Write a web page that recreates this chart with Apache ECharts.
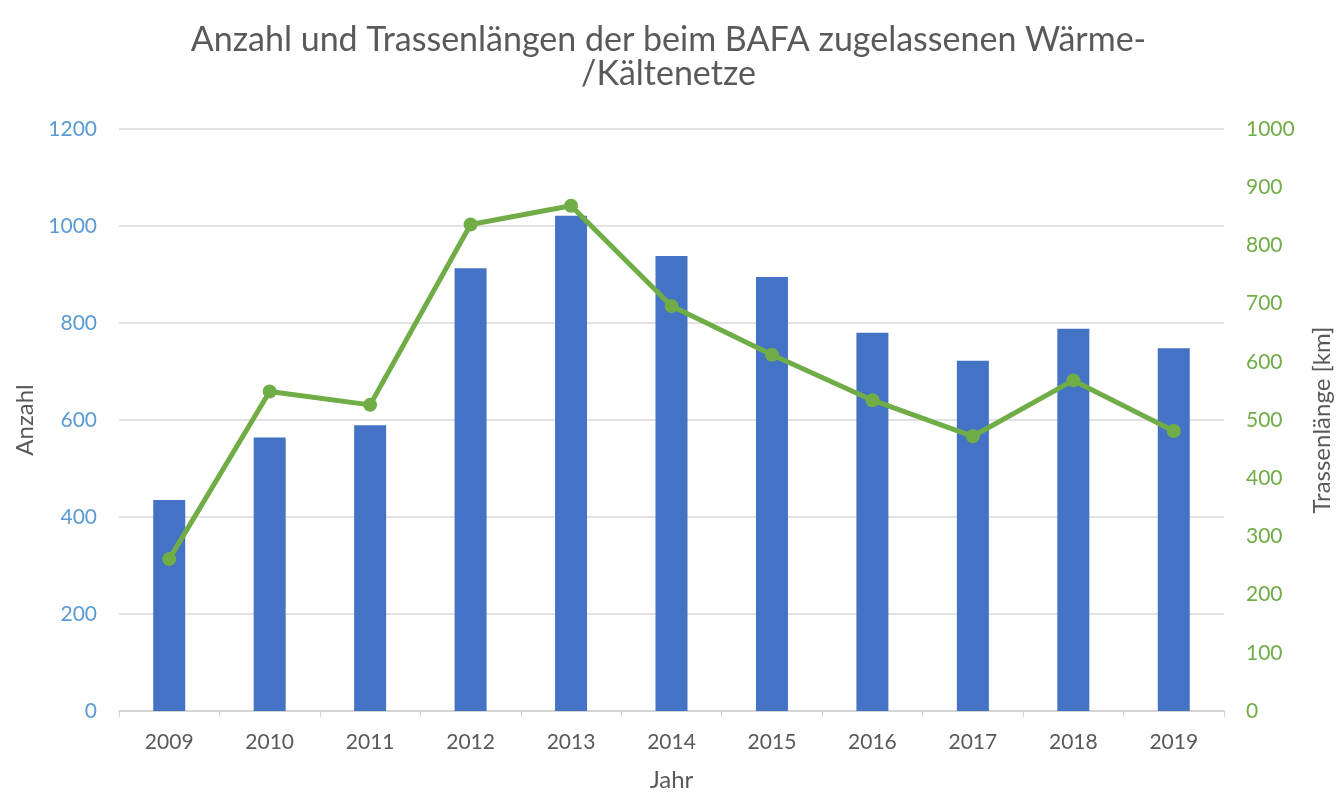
<!DOCTYPE html>
<html>
<head>
<meta charset="utf-8">
<script src="https://cdn.jsdelivr.net/npm/echarts@6/dist/echarts.min.js"></script>
<style>
  html, body { margin: 0; padding: 0; background: #fff; }
  #chart { width: 1337px; height: 793px; }
</style>
</head>
<body>
<div id="chart"></div>
<script>
// Jahre, Anzahl der Netze, Trassenlänge in km
const years = ['2009', '2010', '2011', '2012', '2013', '2014', '2015', '2016', '2017', '2018', '2019'];
const anzahl = [435, 564, 589, 913, 1021, 938, 895, 780, 722, 788, 748];
const trassenlaenge = [261, 549, 526, 836, 868, 696, 612, 534, 472, 568, 481];

const font = 'Lato, "Open Sans", sans-serif';
const grey = '#595959';

const chart = echarts.init(document.getElementById('chart'), null, { renderer: 'canvas' });

chart.setOption({
  animation: false,
  textStyle: { fontFamily: font },
  title: {
    text: 'Anzahl und Trassenlängen der beim BAFA zugelassenen Wärme-\n/Kältenetze',
    left: 'center',
    top: 18,
    textStyle: { fontFamily: font, fontSize: 34, fontWeight: 'normal', color: grey, lineHeight: 34 },
  },
  grid: { left: 119, right: 113, top: 129, bottom: 82, outerBoundsMode: 'none', containLabel: false },
  xAxis: {
    type: 'category',
    data: years,
    name: 'Jahr',
    nameLocation: 'center',
    nameGap: 57,
    nameTextStyle: { fontSize: 24, color: grey },
    axisLine: { lineStyle: { color: '#d0d0d0', width: 1.5 } },
    axisTick: { show: true, length: 6, lineStyle: { color: '#d0d0d0' } },
    axisLabel: { fontSize: 21, color: grey, margin: 21 },
  },
  yAxis: [
    {
      type: 'value',
      min: 0, max: 1200, interval: 200,
      name: 'Anzahl',
      nameLocation: 'center',
      nameGap: 80,
      nameTextStyle: { fontSize: 24, color: grey },
      axisLine: { show: false },
      axisTick: { show: false },
      axisLabel: { fontSize: 21, color: '#5B9BD5', margin: 22, formatter: v => String(v) },
      splitLine: { lineStyle: { color: '#d9d9d9', width: 1.5 } },
    },
    {
      type: 'value',
      min: 0, max: 1000, interval: 100,
      name: 'Trassenlänge [km]',
      nameLocation: 'center',
      nameGap: 86,
      nameTextStyle: { fontSize: 24, color: grey },
      axisLine: { show: false },
      axisTick: { show: false },
      axisLabel: { fontSize: 21, color: '#70AD47', margin: 22, formatter: v => String(v) },
      splitLine: { show: false },
    },
  ],
  series: [
    {
      name: 'Anzahl',
      type: 'bar',
      data: anzahl,
      yAxisIndex: 0,
      barWidth: 32,
      itemStyle: { color: '#4472C4' },
    },
    {
      name: 'Trassenlänge',
      type: 'line',
      data: trassenlaenge,
      yAxisIndex: 1,
      symbol: 'circle',
      symbolSize: 14,
      lineStyle: { color: '#70AD47', width: 5 },
      itemStyle: { color: '#70AD47' },
    },
  ],
});
</script>
</body>
</html>
